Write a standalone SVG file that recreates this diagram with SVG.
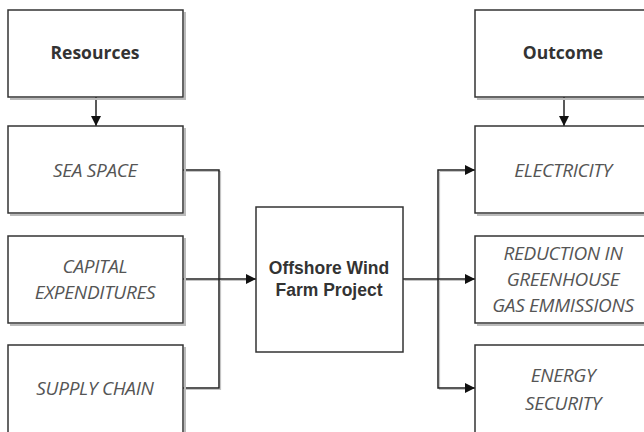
<svg xmlns="http://www.w3.org/2000/svg" width="644" height="432" viewBox="0 0 644 432">
<style>
.box{fill:#fff;stroke:#333;stroke-width:1.5}
.sh{fill:none;stroke:#bbb;stroke-width:2}
.hd{font-family:"Open Sans",sans-serif;font-weight:bold;font-size:17.5px;fill:#333;text-anchor:middle}
.it{font-family:"Open Sans",sans-serif;font-style:italic;font-size:19px;fill:#555;text-anchor:middle;letter-spacing:-0.3px}
.ct{font-family:"Liberation Sans",Arial,sans-serif;font-weight:bold;font-size:17.5px;fill:#333;text-anchor:middle}
.ln{fill:none;stroke:#222;stroke-width:1.5}
.lsh{fill:none;stroke:#c4c4c4;stroke-width:1.2}
</style>
<defs>
<marker id="ah" viewBox="0 0 10 10" refX="10" refY="5" markerWidth="10" markerHeight="10" markerUnits="userSpaceOnUse" orient="auto">
<path d="M0,0 L10,5 L0,10 z" fill="#111"/>
</marker>
</defs>
<g id="connectors">
<g transform="translate(1.5,1.5)">
<path class="lsh" d="M183 170 H219 V388 H183"/>
<path class="lsh" d="M183 279 H246"/>
<path class="lsh" d="M403 279 H465"/>
<path class="lsh" d="M438 170 H465 M438 170 V388 H465"/>
</g>
<path class="ln" d="M96 68 V126" marker-end="url(#ah)"/>
<path class="ln" d="M564 97 V126" marker-end="url(#ah)"/>
<path class="ln" d="M183 170 H219 V388 H183"/>
<path class="ln" d="M183 279 H256" marker-end="url(#ah)"/>
<path class="ln" d="M403 279 H475" marker-end="url(#ah)"/>
<path class="ln" d="M438 279 V170 H475" marker-end="url(#ah)"/>
<path class="ln" d="M438 279 V388 H475" marker-end="url(#ah)"/>
</g>
<g id="resources">
<path class="sh" d="M10 99 H185 V12"/>
<rect class="box" x="8" y="10" width="175" height="87"/>
<text class="hd" x="95" y="59">Resources</text>
</g>
<g id="sea-space">
<path class="sh" d="M10 215 H185 V128"/>
<rect class="box" x="8" y="126" width="175" height="87"/>
<text class="it" x="95" y="177">SEA SPACE</text>
</g>
<g id="capital">
<path class="sh" d="M10 325 H185 V238"/>
<rect class="box" x="8" y="236" width="175" height="87"/>
<text class="it" x="95" y="273">CAPITAL</text>
<text class="it" x="95" y="299">EXPENDITURES</text>
</g>
<g id="supply-chain">
<path class="sh" d="M185 347 V440"/>
<rect class="box" x="8" y="345" width="175" height="95"/>
<text class="it" x="95" y="395">SUPPLY CHAIN</text>
</g>
<g id="project">
<rect class="box" x="256" y="207" width="147" height="145"/>
<text class="ct" x="329" y="274">Offshore Wind</text>
<text class="ct" x="329" y="296">Farm Project</text>
</g>
<g id="outcome">
<path class="sh" d="M477 99 H653"/>
<rect class="box" x="475" y="10" width="176" height="87"/>
<text class="hd" x="563" y="59">Outcome</text>
</g>
<g id="electricity">
<path class="sh" d="M477 215 H653"/>
<rect class="box" x="475" y="126" width="176" height="87"/>
<text class="it" x="563" y="177">ELECTRICITY</text>
</g>
<g id="reduction">
<path class="sh" d="M477 325 H653"/>
<rect class="box" x="475" y="236" width="176" height="87"/>
<text class="it" x="563" y="260">REDUCTION IN</text>
<text class="it" x="563" y="286">GREENHOUSE</text>
<text class="it" x="563" y="312">GAS EMMISSIONS</text>
</g>
<g id="energy-security">
<rect class="box" x="475" y="345" width="176" height="95"/>
<text class="it" x="563" y="382">ENERGY</text>
<text class="it" x="563" y="410">SECURITY</text>
</g>
</svg>
